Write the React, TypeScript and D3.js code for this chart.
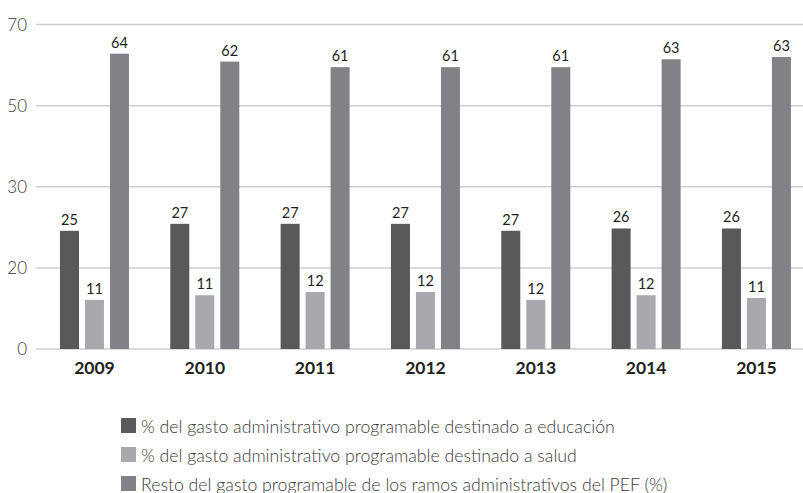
import React from 'react';
import * as d3 from 'd3';

// values; the printed labels are kept separately
const years = ['2009', '2010', '2011', '2012', '2013', '2014', '2015'];
const educacion = [25.5, 27.0, 27.0, 27.0, 25.5, 26.0, 26.0];
const salud = [10.6, 11.6, 12.3, 12.3, 10.6, 11.6, 11.0];
const resto = [63.7, 62.0, 60.8, 60.8, 60.8, 62.5, 63.0];
const educacionLabels = ['25', '27', '27', '27', '27', '26', '26'];
const saludLabels = ['11', '11', '12', '12', '12', '12', '11'];
const restoLabels = ['64', '62', '61', '61', '61', '63', '63'];
const tickLabels = ['0', '20', '30', '50', '70'];
const seriesNames = [
  '% del gasto administrativo programable destinado a educación',
  '% del gasto administrativo programable destinado a salud',
  'Resto del gasto programable de los ramos administrativos del PEF (%)',
];

const W = 803;
const H = 493;
const colors = ['#58595b', '#a7a9ac', '#808285'];
const font = 'Lato, "Open Sans", sans-serif';

const App: React.FC = () => {
  const series = [educacion, salud, resto];
  const labels = [educacionLabels, saludLabels, restoLabels];
  const keys = ['edu', 'sal', 'res'];

  const x0 = d3.scaleBand().domain(years).range([39.3, 811.6]).padding(0);
  const x1 = d3.scaleBand().domain(keys).range([-34.5, 34.5]).paddingInner(0.24).paddingOuter(0);
  const y = d3.scaleLinear().domain([0, 70]).range([349, 24.5]);
  const ticks = tickLabels.map((_, i) => (70 / (tickLabels.length - 1)) * i);

  return (
    <svg width={W} height={H} style={{ position: 'absolute', left: 0, top: 0, background: '#fff' }}>
      <g>
        {ticks.map((t, i) => (
          <g key={i}>
            <line x1={36} x2={W} y1={y(t)} y2={y(t)} stroke="#cfcfd0" strokeWidth={1.5} />
            <text x={27} y={y(t)} dy="0.36em" textAnchor="end" fontFamily={font} fontWeight={300}
              fontSize={17} fill="#3a3a3a">{tickLabels[i]}</text>
          </g>
        ))}
      </g>
      {years.map((yr, yi) => {
        const cx = (x0(yr) || 0) + x0.bandwidth() / 2;
        return (
          <g key={yr} transform={`translate(${cx},0)`}>
            {series.map((s, si) => {
              const bx = x1(keys[si]) || 0;
              return (
                <g key={si}>
                  <rect x={bx} y={y(s[yi])} width={x1.bandwidth()} height={y(0) - y(s[yi])} fill={colors[si]} />
                  <text x={bx + x1.bandwidth() / 2} y={y(s[yi]) - 6} textAnchor="middle" fontFamily={font}
                    fontSize={14.5} fill="#231f20">{labels[si][yi]}</text>
                </g>
              );
            })}
            <text x={0} y={374} textAnchor="middle" fontFamily={font} fontWeight={700}
              fontSize={17.5} fill="#231f20">{yr}</text>
          </g>
        );
      })}
      <g>
        {seriesNames.map((name, i) => (
          <g key={i} transform={`translate(121,${418 + i * 29})`}>
            <rect x={0} y={0} width={15} height={15} fill={colors[i]} />
            <text x={20} y={14.5} fontFamily={font} fontWeight={300} fontSize={17.7} fill="#3a3a3a">{name}</text>
          </g>
        ))}
      </g>
    </svg>
  );
};

export default App;
